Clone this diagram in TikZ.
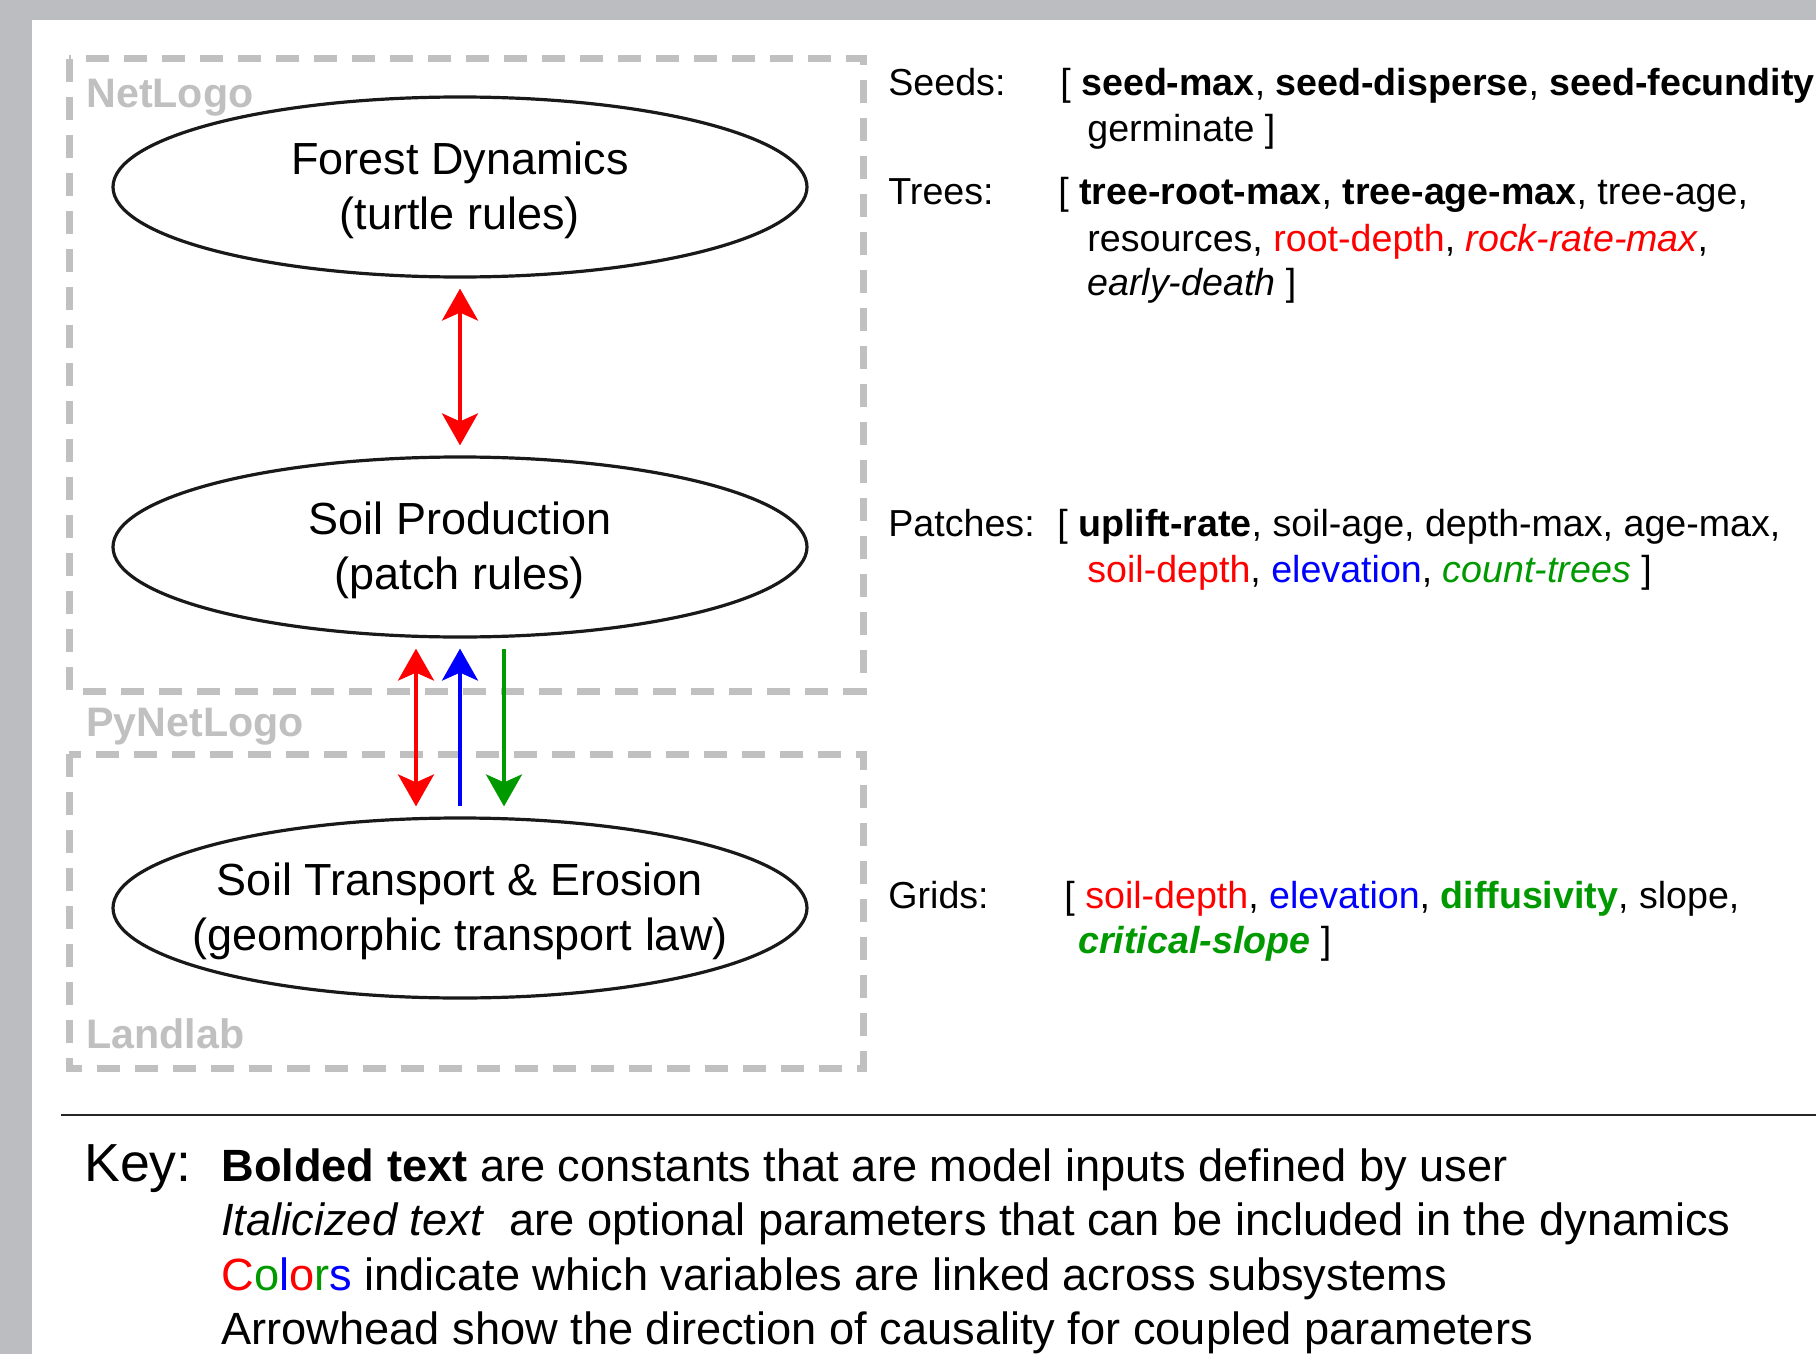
\documentclass[tikz,border=0pt]{standalone}
\usepackage{fontspec}
\setmainfont{Liberation Sans}
\usetikzlibrary{shapes.geometric,arrows.meta}
\definecolor{framegray}{RGB}{188,189,193}
\definecolor{boxgray}{RGB}{192,192,192}
\definecolor{myred}{RGB}{255,0,0}
\definecolor{myblue}{RGB}{0,0,255}
\definecolor{mygreen}{RGB}{0,153,0}
\tikzset{
  proc/.style={draw=black!90, line width=1.6pt, ellipse, minimum width=347pt, minimum height=90pt, inner sep=0pt},
  proctext/.style={align=center, inner sep=0pt, font=\fontsize{22.5}{27.5}\selectfont},
  sysbox/.style={draw=boxgray, line width=3.5pt, dash pattern=on 11.5pt off 7.5pt},
  syslabel/.style={text=boxgray, anchor=base west, inner sep=0pt, font=\fontsize{20.6}{24}\selectfont\bfseries},
  var/.style={anchor=base west, inner sep=0pt, font=\fontsize{18.8}{22.5}\selectfont},
  keytext/.style={anchor=base west, inner sep=0pt, font=\fontsize{22.6}{27}\selectfont},
  link/.style={line width=1.8pt, shorten >=5pt, shorten <=5pt},
  >={Stealth[length=16pt,width=18pt,inset=4pt]}
}
\begin{document}
\begin{tikzpicture}[x=0.5pt,y=-0.5pt]
        \fill[framegray] (0,0) rectangle (1816,1354);
        \fill[white] (32,20) rectangle (1816,1354);
        \useasboundingbox (0,0) rectangle (1816,1354);
        % subsystems
        \draw[sysbox] (69,59) rectangle (863,691);
        \draw[sysbox] (69,754) rectangle (863,1068);
        \node[syslabel] (netlogo) at (86,108) {NetLogo};
        \node[syslabel] (pynetlogo) at (86,736) {PyNetLogo};
        \node[syslabel] (landlab) at (86,1048) {Landlab};
        \node[proc] (forest) at (460,187) {};
        \node[proc] (prod) at (460,547) {};
        \node[proc] (trans) at (460,908) {};
        \node[proctext] (forest-txt) at ([yshift=-1.5pt]forest) {Forest Dynamics\\(turtle rules)};
        \node[proctext] (prod-txt) at ([yshift=-1.5pt]prod) {Soil Production\\(patch rules)};
        \node[proctext] (trans-txt) at ([yshift=-1.5pt]trans) {Soil Transport \& Erosion\\(geomorphic transport law)};
        % couplings
        \draw[link, myred, <->] (forest.south) -- (prod.north);
        \draw[link, myred, <->] ([xshift=-22pt]prod.south) -- ([xshift=-22pt]trans.north);
        \draw[link, myblue, ->] (trans.north) -- (prod.south);
        \draw[link, mygreen, ->] ([xshift=22pt]prod.south) -- ([xshift=22pt]trans.north);
        % variables
        \node[var] (seeds) at (888,96) {Seeds:};
        \node[var] (seeds-a) at (1060,96) {[ \textbf{seed-max}, \textbf{seed-disperse}, \textbf{seed-fecundity}};
        \node[var] (seeds-b) at (1087,141) {germinate ]};
        \node[var] (trees) at (888,205) {Trees:};
        \node[var] (trees-a) at (1058,205) {[ \textbf{tree-root-max}, \textbf{tree-age-max}, tree-age,};
        \node[var] (trees-b) at (1087,251) {resources, \textcolor{myred}{root-depth}, \textcolor{myred}{\itshape rock-rate-max},};
        \node[var] (trees-c) at (1087,295) {\textit{early-death} ]};
        \node[var] (patches) at (888,536) {Patches:};
        \node[var] (patches-a) at (1057,536) {[ \textbf{uplift-rate}, soil-age, depth-max, age-max,};
        \node[var] (patches-b) at (1087,582) {\textcolor{myred}{soil-depth}, \textcolor{myblue}{elevation}, \textcolor{mygreen}{\itshape count-trees} ]};
        \node[var] (grids) at (888,908) {Grids:};
        \node[var] (grids-a) at (1064,908) {[ \textcolor{myred}{soil-depth}, \textcolor{myblue}{elevation}, \textcolor{mygreen}{\bfseries diffusivity}, slope,};
        \node[var] (grids-b) at (1078,953) {\textcolor{mygreen}{\bfseries\itshape critical-slope} ]};
        % key
        \draw[line width=1pt, black!85] (61,1115) -- (1816,1115);
        \node[keytext, font=\fontsize{26.8}{30}\selectfont] (key) at (84,1181) {Key:};
        \node[keytext] (key-a) at (221,1181) {\textbf{Bolded text} are constants that are model inputs defined by user};
        \node[keytext] (key-b) at (221,1235) {\textit{Italicized text}\ \ are optional parameters that can be included in the dynamics};
        \node[keytext] (key-c) at (221,1290) {\textcolor{myred}{C}\textcolor{mygreen}{o}\textcolor{myblue}{l}\textcolor{myred}{o}\textcolor{mygreen}{r}\textcolor{myblue}{s} indicate which variables are linked across subsystems};
        \node[keytext] (key-d) at (221,1344) {Arrowhead show the direction of causality for coupled parameters};
    \end{tikzpicture}
\end{document}
